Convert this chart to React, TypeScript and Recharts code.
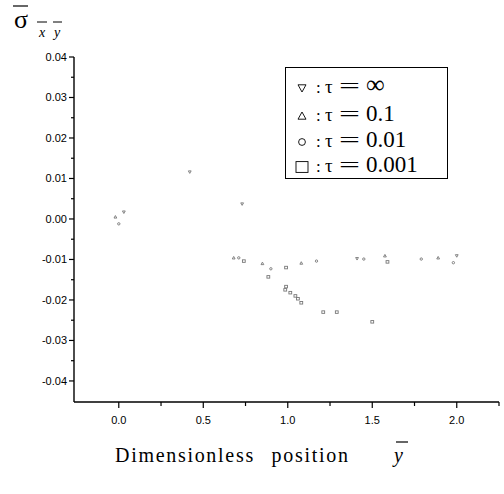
import { Legend, Scatter, ScatterChart, XAxis, YAxis } from "recharts";

// dimensionless position (x) vs shear stress (s)
const tauInf = [
  { x: 0.03, s: 0.0017 },
  { x: 0.42, s: 0.0116 },
  { x: 0.73, s: 0.0037 },
  { x: 1.41, s: -0.0098 },
  { x: 2.0, s: -0.0091 },
];
const tau01 = [
  { x: -0.02, s: 0.0005 },
  { x: 0.68, s: -0.0096 },
  { x: 0.85, s: -0.011 },
  { x: 1.08, s: -0.0109 },
  { x: 1.575, s: -0.0091 },
  { x: 1.89, s: -0.0096 },
];
const tau001 = [
  { x: 0.0, s: -0.0012 },
  { x: 0.71, s: -0.0096 },
  { x: 0.9, s: -0.0123 },
  { x: 1.17, s: -0.0104 },
  { x: 1.45, s: -0.0099 },
  { x: 1.79, s: -0.0099 },
  { x: 1.98, s: -0.0108 },
];
const tau0001 = [
  { x: 0.74, s: -0.0104 },
  { x: 0.885, s: -0.0143 },
  { x: 0.99, s: -0.012 },
  { x: 0.99, s: -0.0167 },
  { x: 0.985, s: -0.0175 },
  { x: 1.015, s: -0.0182 },
  { x: 1.045, s: -0.019 },
  { x: 1.06, s: -0.0197 },
  { x: 1.08, s: -0.0207 },
  { x: 1.21, s: -0.023 },
  { x: 1.29, s: -0.023 },
  { x: 1.5, s: -0.0254 },
  { x: 1.59, s: -0.0106 },
];

const xTicks = [0, 0.25, 0.5, 0.75, 1.0, 1.25, 1.5, 1.75, 2.0, 2.25];
const yTicks = [
  -0.04, -0.035, -0.03, -0.025, -0.02, -0.015, -0.01, -0.005, 0, 0.005, 0.01,
  0.015, 0.02, 0.025, 0.03, 0.035, 0.04,
];
const legendRows = [
  { shape: "down", label: "∞" },
  { shape: "up", label: "0.1" },
  { shape: "circle", label: "0.01" },
  { shape: "square", label: "0.001" },
];

const sans = "'Liberation Sans', Arial, sans-serif";
const serif = "'Liberation Serif', 'Times New Roman', serif";

function Marker({ kind, cx, cy, r, color, w = 0.9 }: { kind: string; cx: number; cy: number; r: number; color: string; w?: number }) {
  const common = { fill: "none", stroke: color, strokeWidth: w };
  if (kind === "down")
    return <polygon points={`${cx - r},${cy - r * 0.8} ${cx + r},${cy - r * 0.8} ${cx},${cy + r}`} {...common} />;
  if (kind === "up")
    return <polygon points={`${cx - r},${cy + r * 0.8} ${cx + r},${cy + r * 0.8} ${cx},${cy - r}`} {...common} />;
  if (kind === "circle") return <circle cx={cx} cy={cy} r={r * 0.85} {...common} />;
  return <rect x={cx - r} y={cy - r * 0.9} width={r * 2} height={r * 1.8} {...common} />;
}

const dotShape = (kind: string) => (props: any) =>
  <Marker kind={kind} cx={props.cx} cy={props.cy} r={1.4} color="#777" />;

function XTick({ x, y, payload }: any) {
  const v = payload.value as number;
  const major = Math.abs(v * 2 - Math.round(v * 2)) < 1e-6 && v <= 2;
  return (
    <g>
      <line x1={x} x2={x} y1={y} y2={y + (major ? 6 : 4)} stroke="#000" strokeWidth={1.2} />
      {major && (
        <text x={x} y={y + 22} textAnchor="middle" fontFamily={sans} fontSize={11} fill="#000">
          {v.toFixed(1)}
        </text>
      )}
    </g>
  );
}

function YTick({ x, y, payload }: any) {
  const v = payload.value as number;
  const major = Math.abs(v * 100 - Math.round(v * 100)) < 1e-6;
  return (
    <g>
      <line x1={x - (major ? 5 : 3)} x2={x} y1={y} y2={y} stroke="#000" strokeWidth={1.2} />
      {major && (
        <text x={x - 7} y={y + 4} textAnchor="end" fontFamily={sans} fontSize={11} fill="#000">
          {v.toFixed(2)}
        </text>
      )}
    </g>
  );
}

function LegendBox() {
  const baselines = [26, 54, 80, 105];
  return (
    <svg width={163} height={112} style={{ display: "block" }}>
      <rect x={0.5} y={0.5} width={162} height={111} fill="#fff" stroke="#000" strokeWidth={1} />
      {legendRows.map((row, i) => {
        const b = baselines[i];
        return (
          <g key={row.label}>
            <Marker kind={row.shape} cx={17} cy={b - 5} r={row.shape === "square" ? 6 : 4} color="#000" />
            <text x={31} y={b} fontFamily={serif} fontSize={17} fill="#000">:</text>
            <text x={40} y={b} fontFamily={serif} fontSize={19} fill="#000">τ</text>
            <text x={54} y={b} fontFamily={serif} fontSize={22} fill="#000" textLength={21} lengthAdjust="spacingAndGlyphs">=</text>
            <text x={81} y={b} fontFamily={serif} fontSize={row.label === "∞" ? 26 : 23} fill="#000">{row.label}</text>
          </g>
        );
      })}
    </svg>
  );
}

export default function App() {
  return (
    <div style={{ position: "absolute", left: 0, top: 0, width: 504, height: 494, background: "#fff" }}>
      <ScatterChart width={504} height={494} margin={{ top: 57, right: 5, bottom: 62, left: 0 }}>
        <XAxis
          type="number"
          dataKey="x"
          domain={[-0.265, 2.25]}
          ticks={xTicks}
          interval={0}
          allowDataOverflow
          height={30}
          tickSize={0}
          tickMargin={0}
          tickLine={false}
          axisLine={{ stroke: "#000", strokeWidth: 1.3 }}
          tick={<XTick />}
        />
        <YAxis
          type="number"
          dataKey="s"
          domain={[-0.0452, 0.04]}
          ticks={yTicks}
          interval={0}
          allowDataOverflow
          width={74}
          tickSize={0}
          tickMargin={0}
          tickLine={false}
          axisLine={{ stroke: "#000", strokeWidth: 1.4 }}
          tick={<YTick />}
        />
        <Legend
          layout="vertical"
          align="center"
          verticalAlign="middle"
          wrapperStyle={{ left: 285, top: 67, width: 163, height: 112 }}
          content={() => <LegendBox />}
        />
        <Scatter name="τ=∞" data={tauInf} shape={dotShape("down")} isAnimationActive={false} />
        <Scatter name="τ=0.1" data={tau01} shape={dotShape("up")} isAnimationActive={false} />
        <Scatter name="τ=0.01" data={tau001} shape={dotShape("circle")} isAnimationActive={false} />
        <Scatter name="τ=0.001" data={tau0001} shape={dotShape("square")} isAnimationActive={false} />
      </ScatterChart>
      <svg width={504} height={494} style={{ position: "absolute", left: 0, top: 0, pointerEvents: "none" }}>
        <line x1={13} x2={28} y1={6} y2={6} stroke="#000" strokeWidth={1.2} />
        <text x={14} y={28} fontFamily={serif} fontSize={26} fill="#000">σ</text>
        <line x1={37} x2={47} y1={22} y2={22} stroke="#000" strokeWidth={1} />
        <line x1={53} x2={62} y1={22} y2={22} stroke="#000" strokeWidth={1} />
        <text x={39} y={37} fontFamily={serif} fontStyle="italic" fontSize={14} fill="#000">x</text>
        <text x={54} y={37} fontFamily={serif} fontStyle="italic" fontSize={14} fill="#000">y</text>
        <text x={115} y={462} fontFamily={serif} fontSize={20} fill="#000" letterSpacing={1.7} wordSpacing={10}>
          Dimensionless position
        </text>
        <line x1={396} x2={408} y1={442} y2={442} stroke="#000" strokeWidth={1.2} />
        <text x={394} y={462} fontFamily={serif} fontStyle="italic" fontSize={20} fill="#000">y</text>
      </svg>
    </div>
  );
}
